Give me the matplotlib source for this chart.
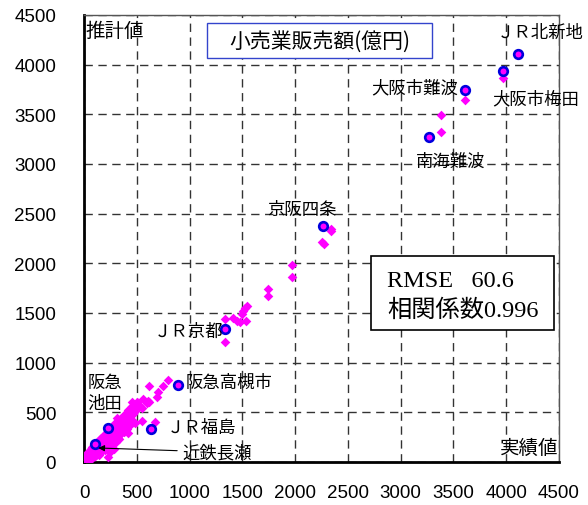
import matplotlib.pyplot as plt
from matplotlib.patches import Rectangle

plt.rcParams["font.family"] = ["Liberation Sans", "Noto Sans CJK JP"]

CJK = ["Noto Sans CJK JP", "DejaVu Sans"]

# all stations: actual (x) vs estimated (y) retail sales, 100 million yen
actual = [
    20, 30, 40, 45, 50, 55, 60, 65, 70, 75, 80, 85, 90, 95, 100, 105, 110,
    115, 120, 125, 130, 135, 140, 145, 150, 30, 50, 70, 90, 60, 80, 100, 120,
    140, 160, 35, 55, 75, 95, 115, 135, 155,
    160, 165, 170, 175, 180, 185, 190, 195, 200, 205, 210, 215, 220, 225,
    230, 235, 240, 245, 250, 255, 260, 265, 270, 275, 280, 285, 290, 295,
    300, 305, 310, 315, 320, 325, 330, 335, 340, 345, 350, 200, 230, 260,
    300, 330, 230, 250, 280, 180, 210, 240, 270, 310, 190, 260, 320,
    360, 370, 380, 390, 400, 410, 420, 430, 440, 450, 460, 380, 420, 350,
    395, 430, 470,
    # dense band of small stations
    15, 25, 22, 40, 42, 38, 62, 58, 64, 80, 84, 78, 102, 98, 104,
    122, 118, 125, 140, 144, 138, 162, 158, 165, 180, 184, 178,
    202, 198, 205, 220, 224, 218, 242, 238, 245, 260, 264, 258,
    282, 278, 285, 300, 304, 298, 322, 318, 325, 340, 344, 338,
    362, 358, 365, 380, 384, 378, 402, 398, 405, 420, 424, 418,
    442, 438, 445, 460, 464, 458, 482, 478, 500, 505,
    451, 514, 545, 545, 485, 415, 374, 316, 562, 616, 616, 672, 698, 750,
    798, 694, 609, 467, 530, 600,
    1335, 1414, 1445, 1477, 1534, 1492, 1525, 1540, 1508, 1335,
    1745, 1745, 1973, 1973, 2250, 2270, 2342, 2342,
    3386, 3386, 3614, 3965,
]
estimate = [
    40, 55, 50, 70, 60, 45, 80, 70, 55, 90, 75, 100, 65, 110, 85, 120, 95,
    75, 130, 105, 140, 115, 90, 150, 125, 70, 90, 110, 130, 30, 50, 60, 80,
    70, 100, 85, 105, 125, 145, 165, 175, 185,
    170, 190, 150, 200, 160, 215, 175, 230, 185, 210, 245, 195, 260, 220,
    180, 270, 235, 200, 285, 250, 210, 300, 260, 230, 315, 275, 240, 330,
    290, 250, 345, 300, 265, 360, 320, 280, 375, 330, 290, 120, 140, 160,
    200, 230, 47, 100, 130, 230, 275, 300, 330, 380, 140, 190, 240,
    400, 350, 420, 370, 440, 330, 460, 390, 480, 420, 500, 300, 290, 410,
    460, 520, 540,
    # dense band of small stations
    12, 45, 72, 22, 62, 98, 32, 84, 128, 42, 102, 148, 60, 122, 178,
    82, 140, 198, 92, 162, 222, 112, 180, 238, 132, 202, 262,
    150, 222, 282, 170, 238, 302, 192, 262, 318, 210, 282, 342,
    222, 300, 362, 242, 322, 388, 258, 342, 410, 280, 358, 432,
    300, 382, 448, 322, 402, 472, 338, 418, 492, 362, 442, 518,
    382, 468, 538, 402, 488, 562, 512, 578, 530, 600,
    608, 575, 541, 408, 389, 523, 450, 443, 634, 608, 768, 400, 708, 762,
    826, 651, 617, 567, 560, 590,
    1440, 1447, 1423, 1407, 1417, 1490, 1548, 1574, 1520, 1205,
    1742, 1675, 1984, 1866, 2210, 2190, 2346, 2323,
    3494, 3320, 3645, 3867,
]

# named stations
station_names = [
    "ＪＲ北新地", "大阪市梅田", "大阪市難波", "南海難波", "京阪四条",
    "ＪＲ京都", "阪急高槻市", "ＪＲ福島", "阪急\n池田", "近鉄長瀬",
]
station_actual = [4110, 3965, 3614, 3267, 2260, 1335, 893, 631, 230, 101]
station_estimate = [4110, 3941, 3746, 3273, 2373, 1339, 775, 332, 345, 178]

rmse = 60.6
corr = 0.996

fig = plt.figure(figsize=(5.88, 5.06), dpi=100)
ax = fig.add_axes([0.1429, 0.085, 0.8078, 0.8834])

ax.scatter(actual, estimate, marker="D", s=24, color="#ff00ff",
           linewidths=0, zorder=3)
ax.plot(station_actual, station_estimate, "o", ms=6.2, mfc="#ff00ff",
        mec="#0000dd", mew=1.9, ls="none", zorder=4)

ax.set_xlim(0, 4500)
ax.set_ylim(0, 4500)
ax.set_xticks(range(0, 4501, 500))
ax.set_yticks(range(0, 4501, 500))
ax.tick_params(length=0, labelsize=13.5)
ax.tick_params(axis="y", pad=20)
ax.tick_params(axis="x", pad=16)
ax.grid(True, ls=(0, (6, 4)), color="#333333", lw=1)

for side in ("left", "bottom"):
    ax.spines[side].set_linewidth(2)
    ax.spines[side].set_color("black")
for side in ("top", "right"):
    ax.spines[side].set_linewidth(1)
    ax.spines[side].set_color("#555555")

ax.text(0.004, 0.988, "推計値", transform=ax.transAxes, family=CJK,
        fontsize=14, ha="left", va="top")
ax.text(0.998, 0.008, "実績値", transform=ax.transAxes, family=CJK,
        fontsize=14, ha="right", va="bottom")

# title box
ax.add_patch(Rectangle((0.259, 0.904), 0.474, 0.078, transform=ax.transAxes,
                       fc="white", ec="#3344cc", lw=1, zorder=5))
ax.text(0.496, 0.942, "小売業販売額(億円)", transform=ax.transAxes,
        family=CJK, fontsize=15, ha="center", va="center", zorder=6)

# statistics box
ax.add_patch(Rectangle((0.604, 0.295), 0.385, 0.166, transform=ax.transAxes,
                       fc="white", ec="black", lw=1.2, zorder=5))
ax.text(0.638, 0.405, f"RMSE   {rmse}", transform=ax.transAxes,
        family=["Liberation Serif", "Noto Sans CJK JP"], fontsize=17.5,
        ha="left", va="center", zorder=6)
ax.text(0.638, 0.340, f"相関係数{corr}", transform=ax.transAxes,
        family=["Liberation Serif", "Noto Sans CJK JP"], fontsize=17.5,
        ha="left", va="center", zorder=6)

# station labels (pixel offsets from each marker)
label_offsets = [
    (22, 22, "center"), (33, -28, "center"), (-51, 3, "center"),
    (22, -24, "center"), (-21, 17, "center"), (-36, -2, "center"),
    (7, 3, "left"), (16, 2, "left"), (-21, 35, "left"), (0, 0, "left"),
]
for name, x, y, (dx, dy, ha) in zip(station_names, station_actual,
                                    station_estimate, label_offsets):
    if name == "近鉄長瀬":
        continue
    ax.annotate(name, (x, y), xytext=(dx, dy), textcoords="offset pixels",
                family=CJK, fontsize=12.5, ha=ha, va="center",
                linespacing=1.25, annotation_clip=False, zorder=6)

ax.annotate("近鉄長瀬", xy=(135, 141), xytext=(935, 100), family=CJK,
            fontsize=12.5, ha="left", va="center",
            arrowprops=dict(arrowstyle="-|>", color="black", lw=0.8,
                            shrinkA=2, shrinkB=0, mutation_scale=9),
            zorder=6)

fig.savefig("out.png", dpi=100)
